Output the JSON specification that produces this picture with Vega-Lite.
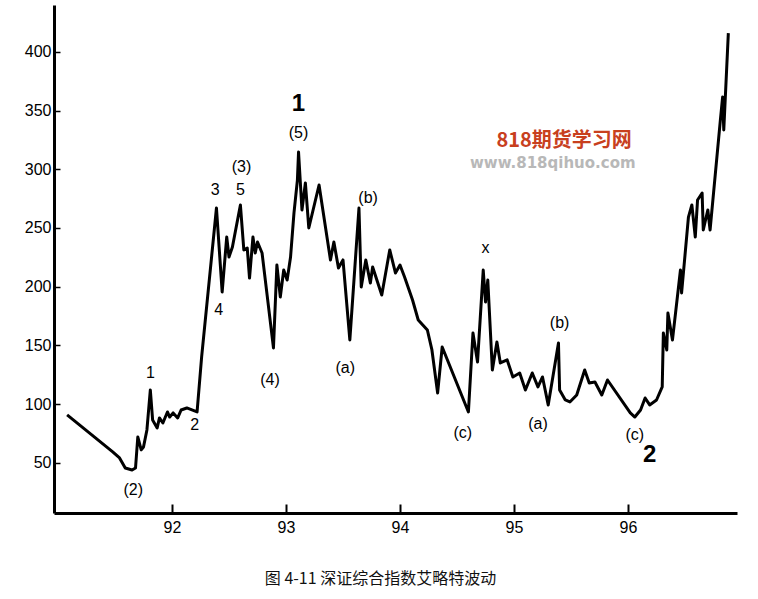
{
  "$schema": "https://vega.github.io/schema/vega-lite/v6.json",
  "width": 683,
  "height": 508,
  "autosize": "none",
  "padding": {"left": 54, "top": 5, "right": 21, "bottom": 86},
  "background": "white",
  "config": {"view": {"stroke": null}, "font": "Liberation Sans"},
  "title": {"text": "图 4-11   深证综合指数艾略特波动", "orient": "bottom", "anchor": "middle", "font": "Noto Sans CJK SC", "fontSize": 16, "fontWeight": "normal", "color": "#111", "offset": 36, "dx": -15},
  "datasets": {
    "index": [
      {"t": 91.08, "v": 90.9}, {"t": 91.48, "v": 59.4}, {"t": 91.54, "v": 54.3}, {"t": 91.59, "v": 45.7},
      {"t": 91.65, "v": 44.0}, {"t": 91.68, "v": 45.7}, {"t": 91.70, "v": 72.1}, {"t": 91.73, "v": 61.1},
      {"t": 91.75, "v": 63.6}, {"t": 91.78, "v": 78.1}, {"t": 91.81, "v": 112.1}, {"t": 91.83, "v": 86.6},
      {"t": 91.87, "v": 79.8}, {"t": 91.89, "v": 88.3}, {"t": 91.92, "v": 84.0}, {"t": 91.96, "v": 93.4},
      {"t": 91.98, "v": 89.1}, {"t": 92.01, "v": 92.6}, {"t": 92.05, "v": 88.3}, {"t": 92.08, "v": 95.1},
      {"t": 92.13, "v": 96.8}, {"t": 92.22, "v": 93.4}, {"t": 92.26, "v": 140.2}, {"t": 92.39, "v": 267.0},
      {"t": 92.44, "v": 195.5}, {"t": 92.48, "v": 242.3}, {"t": 92.50, "v": 225.3}, {"t": 92.53, "v": 233.8},
      {"t": 92.60, "v": 269.6}, {"t": 92.63, "v": 231.3}, {"t": 92.66, "v": 233.0}, {"t": 92.68, "v": 207.4},
      {"t": 92.71, "v": 242.3}, {"t": 92.73, "v": 228.7}, {"t": 92.75, "v": 238.1}, {"t": 92.79, "v": 228.7},
      {"t": 92.89, "v": 147.9}, {"t": 92.92, "v": 218.5}, {"t": 92.95, "v": 191.3}, {"t": 92.98, "v": 214.2},
      {"t": 93.01, "v": 205.7}, {"t": 93.04, "v": 225.3}, {"t": 93.07, "v": 262.8}, {"t": 93.10, "v": 290.8},
      {"t": 93.11, "v": 314.7}, {"t": 93.14, "v": 265.3}, {"t": 93.17, "v": 288.3}, {"t": 93.20, "v": 250.0},
      {"t": 93.29, "v": 286.6}, {"t": 93.39, "v": 222.8}, {"t": 93.42, "v": 238.1}, {"t": 93.46, "v": 215.9},
      {"t": 93.50, "v": 222.8}, {"t": 93.56, "v": 154.7}, {"t": 93.64, "v": 267.0}, {"t": 93.66, "v": 199.8},
      {"t": 93.70, "v": 222.8}, {"t": 93.74, "v": 203.2}, {"t": 93.76, "v": 216.8}, {"t": 93.84, "v": 193.0},
      {"t": 93.91, "v": 231.3}, {"t": 93.96, "v": 211.7}, {"t": 94.00, "v": 218.5}, {"t": 94.04, "v": 208.3},
      {"t": 94.11, "v": 188.7}, {"t": 94.16, "v": 171.7}, {"t": 94.24, "v": 163.2}, {"t": 94.28, "v": 146.2},
      {"t": 94.33, "v": 109.6}, {"t": 94.37, "v": 148.7}, {"t": 94.60, "v": 93.4}, {"t": 94.64, "v": 160.6},
      {"t": 94.68, "v": 136.0}, {"t": 94.73, "v": 214.2}, {"t": 94.75, "v": 187.0}, {"t": 94.77, "v": 205.7},
      {"t": 94.81, "v": 129.1}, {"t": 94.85, "v": 153.0}, {"t": 94.88, "v": 135.1}, {"t": 94.94, "v": 137.7},
      {"t": 94.99, "v": 123.2}, {"t": 95.05, "v": 126.6}, {"t": 95.10, "v": 112.1}, {"t": 95.16, "v": 126.6},
      {"t": 95.21, "v": 114.7}, {"t": 95.25, "v": 123.2}, {"t": 95.30, "v": 99.4}, {"t": 95.39, "v": 152.1},
      {"t": 95.40, "v": 112.1}, {"t": 95.45, "v": 103.6}, {"t": 95.49, "v": 101.9}, {"t": 95.55, "v": 107.9},
      {"t": 95.62, "v": 129.1}, {"t": 95.66, "v": 118.1}, {"t": 95.71, "v": 118.9}, {"t": 95.77, "v": 107.9},
      {"t": 95.82, "v": 120.6}, {"t": 96.02, "v": 92.6}, {"t": 96.06, "v": 89.1}, {"t": 96.11, "v": 95.1},
      {"t": 96.15, "v": 105.3}, {"t": 96.19, "v": 99.4}, {"t": 96.25, "v": 103.6}, {"t": 96.30, "v": 114.7},
      {"t": 96.31, "v": 160.6}, {"t": 96.34, "v": 146.2}, {"t": 96.35, "v": 177.7}, {"t": 96.39, "v": 154.7},
      {"t": 96.46, "v": 214.2}, {"t": 96.47, "v": 194.7}, {"t": 96.53, "v": 259.3}, {"t": 96.56, "v": 269.6},
      {"t": 96.59, "v": 242.3}, {"t": 96.61, "v": 273.8}, {"t": 96.65, "v": 279.8}, {"t": 96.66, "v": 248.3},
      {"t": 96.70, "v": 265.3}, {"t": 96.72, "v": 248.3}, {"t": 96.81, "v": 341.9}, {"t": 96.83, "v": 361.5},
      {"t": 96.84, "v": 333.4}, {"t": 96.88, "v": 415.9}
    ],
    "labels": [
      {"t": 91.81, "v": 126.6, "label": "1", "big": false},
      {"t": 91.66, "v": 27, "label": "(2)", "big": false},
      {"t": 92.20, "v": 82.3, "label": "2", "big": false},
      {"t": 92.38, "v": 282, "label": "3", "big": false},
      {"t": 92.61, "v": 302, "label": "(3)", "big": false},
      {"t": 92.60, "v": 282, "label": "5", "big": false},
      {"t": 92.41, "v": 180, "label": "4", "big": false},
      {"t": 92.86, "v": 120.6, "label": "(4)", "big": false},
      {"t": 93.11, "v": 330.8, "label": "(5)", "big": false},
      {"t": 93.52, "v": 130.8, "label": "(a)", "big": false},
      {"t": 93.72, "v": 275.5, "label": "(b)", "big": false},
      {"t": 94.55, "v": 75.5, "label": "(c)", "big": false},
      {"t": 94.75, "v": 233, "label": "x", "big": false},
      {"t": 95.21, "v": 83.2, "label": "(a)", "big": false},
      {"t": 95.40, "v": 169, "label": "(b)", "big": false},
      {"t": 96.06, "v": 73.8, "label": "(c)", "big": false},
      {"t": 93.11, "v": 355.5, "label": "1", "big": true},
      {"t": 96.19, "v": 56.8, "label": "2", "big": true}
    ],
    "mark": [
      {"t": 95.44, "v": 324, "label": "818期货学习网", "kind": "name"},
      {"t": 95.34, "v": 305, "label": "www.818qihuo.com", "kind": "url"}
    ]
  },
  "layer": [
    {
      "data": {"name": "index"},
      "mark": {"type": "line", "color": "#000", "strokeWidth": 3, "strokeJoin": "round"},
      "encoding": {
        "x": {"field": "t", "type": "quantitative", "scale": {"domain": [90.965, 96.956], "nice": false, "zero": false},
          "axis": {"values": [92, 93, 94, 95, 96], "format": "d", "title": null, "grid": false, "domainColor": "#000", "domainWidth": 3, "tickColor": "#000", "tickWidth": 2, "tickSize": -9, "labelPadding": 15, "labelFontSize": 16, "labelColor": "#000", "labelFont": "Liberation Sans"}},
        "y": {"field": "v", "type": "quantitative", "scale": {"domain": [7.4, 439.8], "nice": false, "zero": false},
          "axis": {"values": [50, 100, 150, 200, 250, 300, 350, 400], "format": "d", "title": null, "grid": false, "domainColor": "#000", "domainWidth": 3, "tickColor": "#000", "tickWidth": 1.5, "tickSize": -6, "labelPadding": 9, "labelFontSize": 16, "labelColor": "#000", "labelFont": "Liberation Sans"}}
      }
    },
    {
      "data": {"name": "labels"},
      "transform": [{"filter": "!datum.big"}],
      "mark": {"type": "text", "color": "#000", "font": "Liberation Sans", "fontSize": 16, "baseline": "middle", "align": "center"},
      "encoding": {
        "x": {"field": "t", "type": "quantitative"},
        "y": {"field": "v", "type": "quantitative"},
        "text": {"field": "label"}
      }
    },
    {
      "data": {"name": "labels"},
      "transform": [{"filter": "datum.big"}],
      "mark": {"type": "text", "color": "#000", "font": "Liberation Sans", "fontWeight": "bold", "fontSize": 24, "baseline": "middle", "align": "center"},
      "encoding": {
        "x": {"field": "t", "type": "quantitative"},
        "y": {"field": "v", "type": "quantitative"},
        "text": {"field": "label"}
      }
    },
    {
      "data": {"name": "mark"},
      "transform": [{"filter": "datum.kind == 'name'"}],
      "mark": {"type": "text", "font": "Noto Sans CJK SC", "fontWeight": "bold", "fontSize": 20, "color": "#c8401e", "baseline": "middle", "align": "center"},
      "encoding": {
        "x": {"field": "t", "type": "quantitative"},
        "y": {"field": "v", "type": "quantitative"},
        "text": {"field": "label"}
      }
    },
    {
      "data": {"name": "mark"},
      "transform": [{"filter": "datum.kind == 'url'"}],
      "mark": {"type": "text", "font": "DejaVu Sans", "fontWeight": "bold", "fontSize": 15, "color": "#b8b8b8", "baseline": "middle", "align": "center"},
      "encoding": {
        "x": {"field": "t", "type": "quantitative"},
        "y": {"field": "v", "type": "quantitative"},
        "text": {"field": "label"}
      }
    }
  ]
}
